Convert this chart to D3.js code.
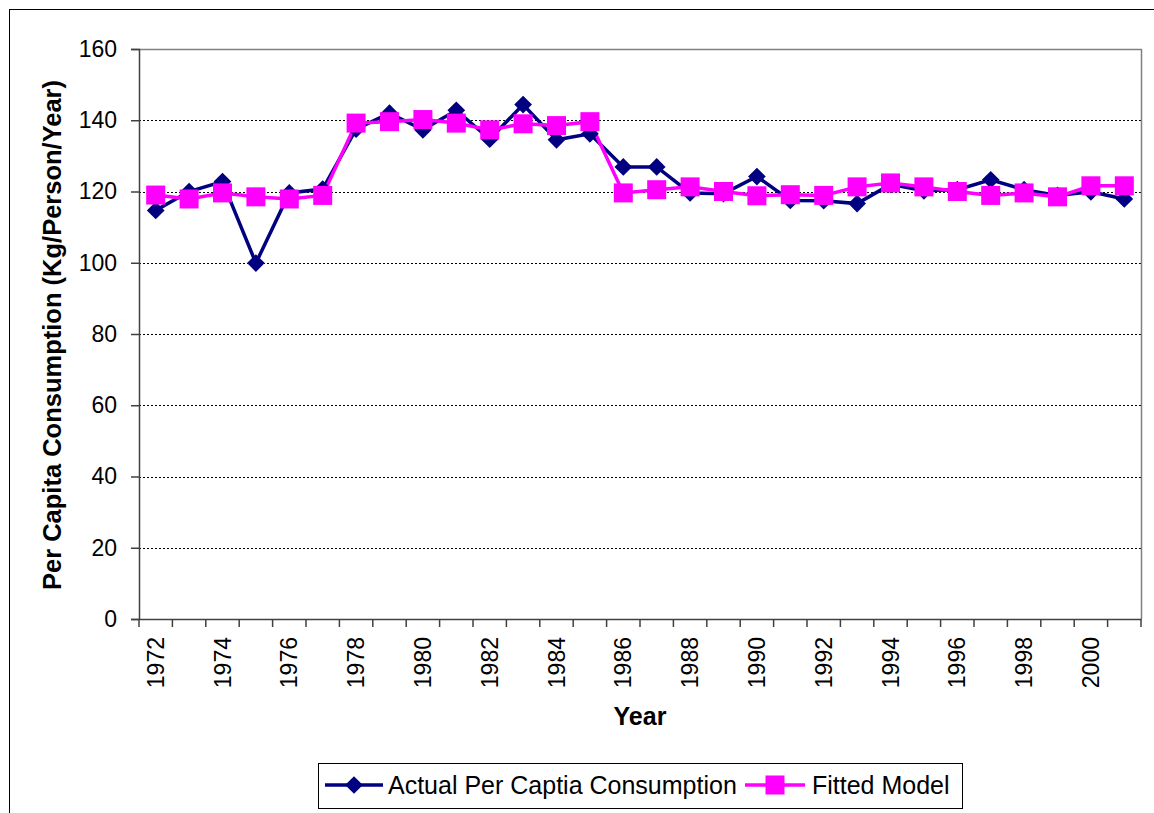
<!DOCTYPE html>
<html>
<head>
<meta charset="utf-8">
<script src="https://cdn.jsdelivr.net/npm/d3@7"></script>
<style>
  html, body { margin: 0; padding: 0; background: #fff; }
  svg { display: block; font-family: Arial, "Liberation Sans", sans-serif; }
</style>
</head>
<body>
<svg id="chart" width="1154" height="813"></svg>
<script>
const years = [1972,1973,1974,1975,1976,1977,1978,1979,1980,1981,1982,1983,1984,1985,1986,1987,1988,1989,1990,1991,1992,1993,1994,1995,1996,1997,1998,1999,2000,2001];
const actual = [114.7,120.0,122.8,99.9,119.6,120.7,137.5,142.0,137.3,142.8,134.7,144.4,134.5,136.2,126.9,126.9,119.6,119.4,124.2,117.5,117.4,116.6,122.0,120.2,120.5,123.3,120.5,118.9,119.9,117.9];
const fitted = [119.0,117.9,119.6,118.5,117.9,118.9,139.2,139.6,140.2,139.2,137.3,139.0,138.5,139.6,119.6,120.5,121.3,120.0,118.8,119.1,118.9,121.3,122.4,121.3,120.0,118.9,119.6,118.5,121.6,121.6];
const yTicks = [0,20,40,60,80,100,120,140,160];
const xLabelYears = [1972,1974,1976,1978,1980,1982,1984,1986,1988,1990,1992,1994,1996,1998,2000];
const seriesNames = ["Actual Per Captia Consumption", "Fitted Model"];
const yTitle = "Per Capita Consumption (Kg/Person/Year)";
const xTitle = "Year";

const svg = d3.select("#chart");
const L = 139, R = 1141, T = 49, B = 619;
const FONT = "Arial, 'Liberation Sans', sans-serif";

// outer chart border
svg.append("rect").attr("x", 9.5).attr("y", 9.5).attr("width", 1160).attr("height", 820)
  .attr("fill", "none").attr("stroke", "#000").attr("stroke-width", 1);

const x = d3.scaleBand().domain(years).range([L, R]).padding(0);
const y = d3.scaleLinear().domain([0, 160]).range([B, T]);
const cx = d => x(d) + x.bandwidth() / 2;

// gridlines
svg.append("g").selectAll("line").data(yTicks.filter(v => v > 0 && v < 160)).join("line")
  .attr("x1", L).attr("x2", R).attr("y1", d => Math.round(y(d)) + 0.5).attr("y2", d => Math.round(y(d)) + 0.5)
  .attr("stroke", "#000").attr("stroke-width", 1).attr("stroke-dasharray", "2,2");

// plot border top/right
svg.append("path").attr("d", `M${L},${T + 0.5}H${R + 0.5}V${B}`).attr("fill", "none")
  .attr("stroke", "#808080").attr("stroke-width", 1.5);

// y axis
const yAxis = d3.axisLeft(y).tickValues(yTicks).tickSize(8).tickPadding(14).tickFormat(d3.format("d"));
const gy = svg.append("g").attr("transform", `translate(${L},0)`).call(yAxis);
gy.select(".domain").attr("stroke", "#404040").attr("stroke-width", 1.5);
gy.selectAll(".tick line").attr("stroke", "#404040").attr("stroke-width", 1.5);
gy.selectAll("text").attr("font-size", 23).attr("fill", "#000").attr("font-family", FONT);

// x axis: labels every other year
const xAxis = d3.axisBottom(x).tickValues(xLabelYears).tickSize(0).tickPadding(0);
const gx = svg.append("g").attr("transform", `translate(0,${B})`).call(xAxis);
gx.select(".domain").attr("stroke", "#404040").attr("stroke-width", 1.5);
gx.selectAll(".tick text")
  .attr("font-size", 23).attr("fill", "#000").attr("font-family", FONT)
  .attr("text-anchor", "end").attr("dy", null)
  .attr("transform", "translate(8,18) rotate(-90)")
  .attr("y", 0).attr("x", 0);

// band boundary ticks
const edges = years.map(d => x(d)).concat([x.range()[1]]);
svg.append("g").selectAll("line").data(edges).join("line")
  .attr("x1", d => d).attr("x2", d => d).attr("y1", B).attr("y2", B + 8)
  .attr("stroke", "#404040").attr("stroke-width", 1.5);

// lines
const line = data => d3.line().x((d, i) => cx(years[i])).y(d => y(d))(data);
svg.append("path").attr("d", line(actual)).attr("fill", "none").attr("stroke", "#000080").attr("stroke-width", 3.5);
svg.append("path").attr("d", line(fitted)).attr("fill", "none").attr("stroke", "#FF00FF").attr("stroke-width", 3.5);

// markers
const diamond = d3.symbol().type(d3.symbolDiamond2).size(200);
svg.append("g").selectAll("path").data(actual).join("path")
  .attr("d", diamond()).attr("transform", (d, i) => `translate(${cx(years[i])},${y(d)})`)
  .attr("fill", "#000080");
const sq = 19;
svg.append("g").selectAll("rect").data(fitted).join("rect")
  .attr("x", (d, i) => cx(years[i]) - sq / 2).attr("y", d => y(d) - sq / 2)
  .attr("width", sq).attr("height", sq).attr("fill", "#FF00FF");

// titles
svg.append("text").attr("transform", "translate(61,335) rotate(-90)").attr("text-anchor", "middle")
  .attr("font-size", 25.5).attr("font-weight", "bold").text(yTitle);
svg.append("text").attr("x", 640).attr("y", 725).attr("text-anchor", "middle")
  .attr("font-size", 25).attr("font-weight", "bold").text(xTitle);

// legend
const lg = svg.append("g");
lg.append("rect").attr("x", 318.5).attr("y", 763.5).attr("width", 644).attr("height", 45)
  .attr("fill", "#fff").attr("stroke", "#000").attr("stroke-width", 1);
lg.append("line").attr("x1", 325).attr("x2", 383).attr("y1", 785).attr("y2", 785).attr("stroke", "#000080").attr("stroke-width", 3.5);
lg.append("path").attr("d", diamond()).attr("transform", "translate(354,785)").attr("fill", "#000080");
lg.append("text").attr("x", 388).attr("y", 794).attr("font-size", 25).text(seriesNames[0]);
lg.append("line").attr("x1", 745).attr("x2", 805).attr("y1", 785).attr("y2", 785).attr("stroke", "#FF00FF").attr("stroke-width", 3.5);
lg.append("rect").attr("x", 775 - 9.5).attr("y", 785 - 9.5).attr("width", 19).attr("height", 19).attr("fill", "#FF00FF");
lg.append("text").attr("x", 812).attr("y", 794).attr("font-size", 25).text(seriesNames[1]);
</script>
</body>
</html>
